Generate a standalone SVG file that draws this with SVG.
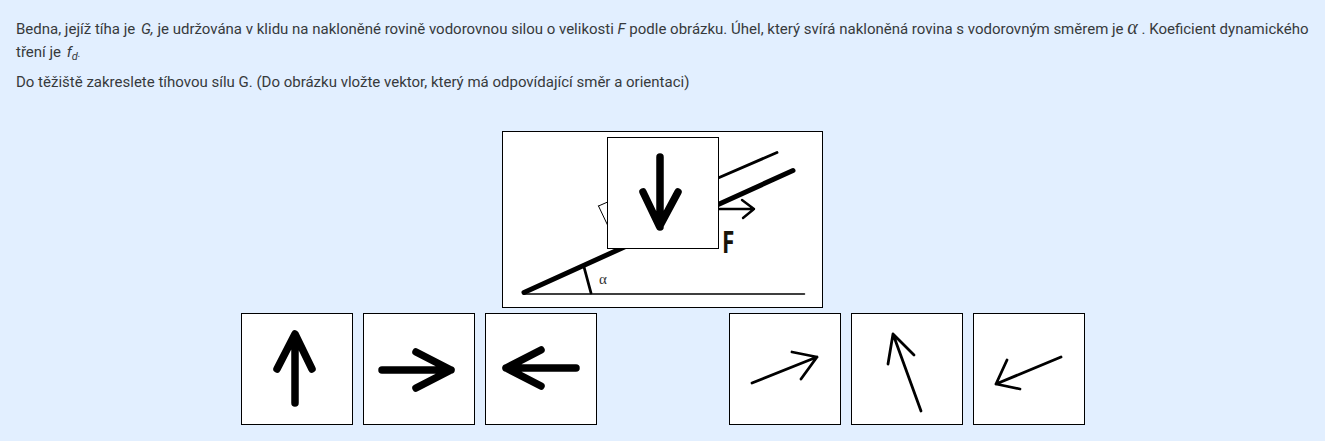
<svg xmlns="http://www.w3.org/2000/svg" width="1325" height="441" viewBox="0 0 1325 441">
<style>
.t{font-family:Roboto,"Liberation Sans",sans-serif;font-size:15px;fill:#373a3c}
.i{font-style:italic}
.box{fill:#fff;stroke:#000;stroke-width:1}
.a{fill:none;stroke:#000;stroke-linecap:round;stroke-linejoin:round}
.h{stroke-width:7.500}
.n{stroke-width:2.800}
</style>
<rect width="1325" height="441" fill="#e2efff"/>
<g id="text">
<text class="t" x="16" y="34">Bedna, jejíž tíha je <tspan class="i" dx="2">G,</tspan> je udržována v klidu na nakloněné rovině vodorovnou silou o velikosti <tspan class="i">F</tspan> podle obrázku. Úhel, který svírá nakloněná rovina s vodorovným směrem je <tspan font-family="'Liberation Serif',serif" class="i" font-size="20">α</tspan> . Koeficient dynamického</text>
<text class="t" x="16" y="57">tření je <tspan class="i" dx="2">f</tspan><tspan class="i" font-size="11" dy="3">d</tspan><tspan class="i" dy="-3" font-size="10">.</tspan></text>
<text class="t" x="16" y="87">Do těžiště zakreslete tíhovou sílu G. (Do obrázku vložte vektor, který má odpovídající směr a orientaci)</text>
</g>
<g id="incline">
<rect class="box" x="502.500" y="131.500" width="320" height="176"/>
<path class="a" stroke-width="5" d="M524 292.500L793 170.500"/>
<path class="a" stroke-width="2.800" d="M710 181.500L777 152.500"/>
<path class="a" stroke-width="1.500" d="M524 294H804.500"/>
<path class="a" stroke-width="2.800" d="M584 267L591 293"/>
<path class="a" stroke-width="1" d="M598.500 206L610 201M598.500 206L608 226"/>
<path class="a" stroke-width="2.400" d="M715 209H754M742 200L754 209L743 218"/>
<text x="599" y="284" font-family="'Liberation Serif',serif" font-size="15" fill="#333">α</text>
<text transform="translate(722 253) scale(.75 1)" font-family="'Open Sans','Liberation Sans',sans-serif" font-size="30" font-weight="700" fill="#1a1408">F</text>
</g>
<g id="arrow-down">
<rect class="box" x="607.500" y="137.500" width="111" height="111"/>
<path class="a h" d="M660 157V227M643 192L659.500 226.500L678 192"/>
</g>
<g id="arrow-up">
<rect class="box" x="241.500" y="313.500" width="111" height="111"/>
<path class="a h" d="M295 403V335M277 369L295 334L312 369"/>
</g>
<g id="arrow-right">
<rect class="box" x="363.500" y="313.500" width="111" height="111"/>
<path class="a h" d="M382 370H451M416 352L451 370L416 388"/>
</g>
<g id="arrow-left">
<rect class="box" x="485.500" y="313.500" width="111" height="111"/>
<path class="a h" d="M576 368H506M541 350L506 368L541 386"/>
</g>
<g id="arrow-ne">
<rect class="box" x="729.500" y="313.500" width="111" height="111"/>
<path class="a n" d="M752 383L817 357M792 352L817 357L801 379"/>
</g>
<g id="arrow-nw">
<rect class="box" x="851.500" y="313.500" width="111" height="111"/>
<path class="a n" d="M921 411L893 334M888 364L893 334L914 355"/>
</g>
<g id="arrow-sw">
<rect class="box" x="973.500" y="313.500" width="111" height="111"/>
<path class="a n" d="M1061 357L996 384M1007 360L996 384L1020 389"/>
</g>
</svg>
